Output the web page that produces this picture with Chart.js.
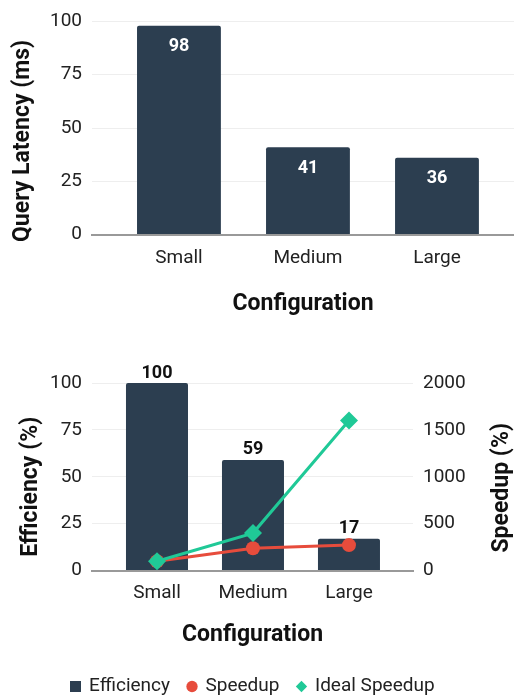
<!DOCTYPE html>
<html>
<head>
<meta charset="utf-8">
<script src="https://cdn.jsdelivr.net/npm/chart.js@4"></script>
<style>
  html, body { margin: 0; padding: 0; background: #fff; overflow: hidden; width: 514px; height: 695px; }
  .box { position: absolute; left: 0; width: 514px; }
  #b1 { top: 0; height: 322px; }
  #b2 { top: 350px; height: 356px; }
</style>
</head>
<body>
<div class="box" id="b1"><canvas id="c1"></canvas></div>
<div class="box" id="b2"><canvas id="c2"></canvas></div>
<script>
const categories = ['Small', 'Medium', 'Large'];
const latencyMs = [98, 41, 36];
const efficiencyPct = [100, 59, 17];
const speedupPct = [100, 239, 272];
const idealSpeedupPct = [100, 400, 1600];
const latencyTicks = [0, 25, 50, 75, 100];
const efficiencyTicks = [0, 25, 50, 75, 100];
const speedupTicks = [0, 500, 1000, 1500, 2000];

const positions = categories.map((_, i) => i);
const BAR = '#2c3e50', RED = '#e74c3c', GREEN = '#20c997';
const TXT = '#222';
const TITLE_FONT = 'bold 23px Roboto';

Chart.defaults.font.family = 'Roboto';
Chart.defaults.color = TXT;
Chart.defaults.animation = false;

const catTicks = axis => { axis.ticks = positions.map(v => ({ value: v })); };

// square legend marker for the bar series
const sq = document.createElement('canvas');
sq.width = 11; sq.height = 11;
(function () { const c = sq.getContext('2d'); c.fillStyle = BAR; c.fillRect(0, 0, 11, 11); })();

function barLabelPlugin(id, offset, color) {
  return {
    id,
    afterDatasetsDraw(chart) {
      const ctx = chart.ctx;
      chart.data.datasets.forEach((ds, di) => {
        if (ds.type && ds.type !== 'bar') return;
        const meta = chart.getDatasetMeta(di);
        meta.data.forEach((el, i) => {
          ctx.save();
          ctx.font = 'bold 18px Roboto';
          ctx.fillStyle = color;
          ctx.textAlign = 'center';
          ctx.textBaseline = 'middle';
          ctx.fillText(String(ds.data[i]), el.x, el.y + offset);
          ctx.restore();
        });
      });
    }
  };
}

// vertical axis titles, reading bottom-to-top, placed beside their scale
function yTitlesPlugin(id, items) {
  return {
    id,
    afterDraw(chart) {
      const ctx = chart.ctx;
      const ca = chart.chartArea;
      items.forEach(it => {
        const sc = chart.scales[it.scale];
        const x = it.side === 'left' ? sc.left + it.inset : sc.right - it.inset;
        const y = (ca.top + ca.bottom) / 2 + it.shift;
        ctx.save();
        ctx.translate(x, y);
        ctx.rotate(-Math.PI / 2);
        ctx.font = TITLE_FONT;
        ctx.fillStyle = '#111';
        ctx.textAlign = 'center';
        ctx.textBaseline = 'middle';
        ctx.fillText(it.text, 0, 0);
        ctx.restore();
      });
    }
  };
}

new Chart(document.getElementById('c1'), {
  type: 'bar',
  data: {
    labels: positions,
    datasets: [{
      label: 'Query Latency',
      data: latencyMs,
      backgroundColor: BAR,
      borderRadius: 2,
      barPercentage: 0.65,
      categoryPercentage: 1
    }]
  },
  options: {
    responsive: true,
    maintainAspectRatio: false,
    layout: { padding: { top: 20, right: 0, left: 0, bottom: 0 } },
    plugins: { legend: { display: false }, tooltip: { enabled: false } },
    scales: {
      x: {
        type: 'linear',
        offset: false,
        min: -0.674, max: 2.597,
        grid: { display: false, offset: false, drawTicks: false },
        border: { display: true, color: '#999', width: 2 },
        afterBuildTicks: catTicks,
        ticks: { autoSkip: false, padding: 12, font: { size: 19 }, color: TXT,
          callback: v => categories[v] },
        title: { display: true, text: 'Configuration', font: { size: 23, weight: 'bold' }, color: '#111',
          padding: { top: 9, bottom: 4 } }
      },
      y: {
        min: 0, max: 100,
        afterFit: s => { s.width = 92; },
        afterBuildTicks: axis => { axis.ticks = latencyTicks.map(v => ({ value: v })); },
        grid: { color: '#eeeeee', drawTicks: false },
        border: { display: false },
        ticks: { padding: 10, font: { size: 19 }, color: TXT },
        title: { display: false }
      }
    }
  },
  plugins: [
    barLabelPlugin('lbl1', 21, '#ffffff'),
    yTitlesPlugin('yt1', [{ scale: 'y', side: 'left', inset: 23, shift: 13, text: 'Query Latency (ms)' }])
  ]
});

new Chart(document.getElementById('c2'), {
  type: 'bar',
  data: {
    labels: positions,
    datasets: [
      {
        type: 'bar',
        label: 'Efficiency',
        data: efficiencyPct,
        backgroundColor: BAR,
        borderRadius: 2,
        barPercentage: 0.646,
        categoryPercentage: 1,
        yAxisID: 'y',
        order: 3,
        pointStyle: sq
      },
      {
        type: 'line',
        label: 'Speedup',
        data: speedupPct,
        borderColor: RED,
        backgroundColor: RED,
        borderWidth: 3,
        pointStyle: 'circle',
        pointRadius: 7,
        pointBorderWidth: 0,
        yAxisID: 'y1',
        order: 2
      },
      {
        type: 'line',
        label: 'Ideal Speedup',
        data: idealSpeedupPct,
        borderColor: GREEN,
        backgroundColor: GREEN,
        borderWidth: 3,
        pointStyle: 'rectRot',
        pointRadius: 9,
        pointBorderWidth: 0,
        yAxisID: 'y1',
        order: 1
      }
    ]
  },
  options: {
    responsive: true,
    maintainAspectRatio: false,
    layout: { padding: { top: 33, right: 8, left: 0, bottom: 0 } },
    plugins: {
      tooltip: { enabled: false },
      legend: {
        position: 'bottom',
        labels: {
          usePointStyle: true,
          boxWidth: 8, boxHeight: 8,
          padding: 18,
          font: { size: 19 },
          color: TXT,
          sort: (a, b) => a.datasetIndex - b.datasetIndex
        }
      }
    },
    scales: {
      x: {
        type: 'linear',
        offset: false,
        min: -0.677, max: 2.667,
        grid: { display: false, offset: false, drawTicks: false },
        border: { display: true, color: '#999', width: 2 },
        afterBuildTicks: catTicks,
        ticks: { autoSkip: false, padding: 11, font: { size: 19 }, color: TXT,
          callback: v => categories[v] },
        title: { display: true, text: 'Configuration', font: { size: 23, weight: 'bold' }, color: '#111',
          padding: { top: 6, bottom: 10 } }
      },
      y: {
        position: 'left',
        min: 0, max: 100,
        afterFit: s => { s.width = 92; },
        afterBuildTicks: axis => { axis.ticks = efficiencyTicks.map(v => ({ value: v })); },
        grid: { color: '#eeeeee', drawTicks: false },
        border: { display: false },
        ticks: { padding: 10, font: { size: 19 }, color: TXT },
        title: { display: false }
      },
      y1: {
        position: 'right',
        min: 0, max: 2000,
        afterFit: s => { s.width = 93; },
        afterBuildTicks: axis => { axis.ticks = speedupTicks.map(v => ({ value: v })); },
        grid: { display: false, drawTicks: false },
        border: { display: false },
        ticks: { padding: 10, font: { size: 19 }, color: TXT, callback: v => String(v) },
        title: { display: false }
      }
    }
  },
  plugins: [
    barLabelPlugin('lbl2', -10, '#111'),
    yTitlesPlugin('yt2', [
      { scale: 'y', side: 'left', inset: 31, shift: 10, text: 'Efficiency (%)' },
      { scale: 'y1', side: 'right', inset: 4, shift: 11, text: 'Speedup (%)' }
    ])
  ]
});
</script>
</body>
</html>
